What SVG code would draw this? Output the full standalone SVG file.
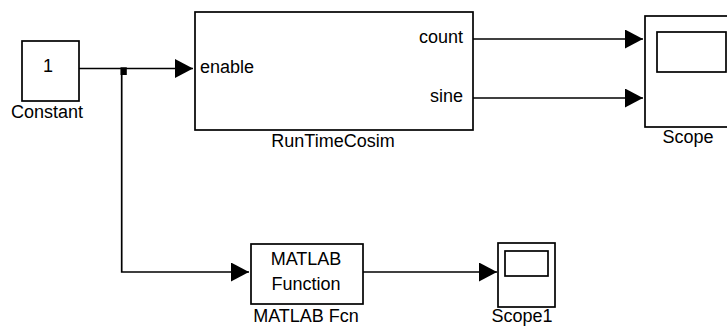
<svg xmlns="http://www.w3.org/2000/svg" width="727" height="326" viewBox="0 0 727 326">
<style>
.blk{fill:#fff;stroke:#000;stroke-width:1.7}
.ln{fill:none;stroke:#000;stroke-width:1.7}
text{font-family:"Liberation Sans",Arial,sans-serif;font-size:18px;fill:#000}
.m{text-anchor:middle}
.e{text-anchor:end}
</style>
<defs>
<marker id="arr" markerUnits="userSpaceOnUse" markerWidth="18" markerHeight="19" refX="18" refY="9.5" orient="auto">
<path d="M0,0 L18,9.5 L0,19 Z" fill="#000"/>
</marker>
</defs>
<rect width="727" height="326" fill="#fff"/>
<g id="connectors">
<path class="ln" d="M75,68.5 H193" marker-end="url(#arr)"/>
<path class="ln" d="M121.7,68.5 V272 H249" marker-end="url(#arr)"/>
<rect x="120.5" y="67.3" width="6.3" height="7.7" fill="#000"/>
<path class="ln" d="M469,39 H643" marker-end="url(#arr)"/>
<path class="ln" d="M469,98 H643" marker-end="url(#arr)"/>
<path class="ln" d="M358,272 H497" marker-end="url(#arr)"/>
</g>
<g id="Constant">
<rect class="blk" x="22" y="41" width="57" height="60"/>
<text class="m" x="48" y="72">1</text>
<text class="m" x="47" y="118">Constant</text>
</g>
<g id="RunTimeCosim">
<rect class="blk" x="195" y="12" width="278" height="118"/>
<text x="200" y="73">enable</text>
<text class="e" x="463" y="43">count</text>
<text class="e" x="463" y="102">sine</text>
<text class="m" x="333" y="147">RunTimeCosim</text>
</g>
<g id="Scope">
<rect class="blk" x="645" y="16" width="93" height="111"/>
<rect class="blk" x="657" y="32" width="69" height="40"/>
<text class="m" x="688" y="143">Scope</text>
</g>
<g id="MATLABFcn">
<rect class="blk" x="251" y="244" width="112" height="60"/>
<text class="m" x="306" y="265">MATLAB</text>
<text class="m" x="306" y="290">Function</text>
<text class="m" x="306" y="322">MATLAB Fcn</text>
</g>
<g id="Scope1">
<rect class="blk" x="498" y="243" width="57" height="64"/>
<rect class="blk" x="505" y="251" width="43" height="25"/>
<text class="m" x="522" y="322">Scope1</text>
</g>
</svg>
